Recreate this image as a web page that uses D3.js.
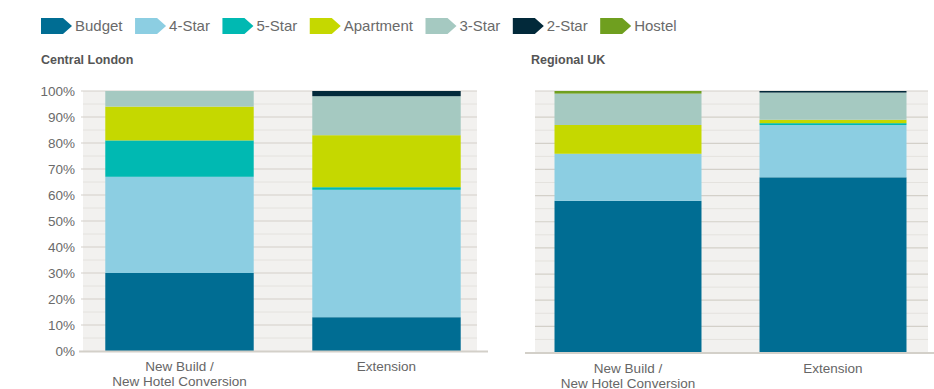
<!DOCTYPE html>
<html>
<head>
<meta charset="utf-8">
<script src="https://cdn.jsdelivr.net/npm/d3@7/dist/d3.min.js"></script>
<style>
  html, body { margin: 0; padding: 0; background: #ffffff; }
  svg { display: block; font-family: "Liberation Sans", Arial, sans-serif; }
</style>
</head>
<body>
<svg id="chart" width="934" height="389"></svg>
<script>
// Hotel pipeline mix by grade (% of rooms)
const series = ["Budget", "4-Star", "5-Star", "Apartment", "3-Star", "2-Star", "Hostel"];
const colors = ["#006d93", "#8ccee2", "#00b9b2", "#c5d800", "#a5c9c1", "#02293a", "#6f9f1f"];
const categories = ["New Build /\nNew Hotel Conversion", "Extension"];
const yTicks = [0, 10, 20, 30, 40, 50, 60, 70, 80, 90, 100];

// Central London: one array per series, values for [New Build, Extension]
const londonBudget    = [30, 13];
const londonFourStar  = [37, 49];
const londonFiveStar  = [14, 1];
const londonApartment = [13, 20];
const londonThreeStar = [6, 15];
const londonTwoStar   = [0, 2];
const londonHostel    = [0, 0];

// Regional UK
const regionalBudget    = [58, 67];
const regionalFourStar  = [18, 20];
const regionalFiveStar  = [0, 0.7];
const regionalApartment = [11, 1.3];
const regionalThreeStar = [12, 10.4];
const regionalTwoStar   = [0, 0.6];
const regionalHostel    = [1, 0];

function toRows(cols) {
  return categories.map((c, i) => {
    const row = { category: c };
    series.forEach((s, k) => { row[s] = cols[k][i]; });
    return row;
  });
}
const londonRows = toRows([londonBudget, londonFourStar, londonFiveStar, londonApartment,
                           londonThreeStar, londonTwoStar, londonHostel]);
const regionalRows = toRows([regionalBudget, regionalFourStar, regionalFiveStar, regionalApartment,
                             regionalThreeStar, regionalTwoStar, regionalHostel]);

const svg = d3.select("#chart");
const color = d3.scaleOrdinal().domain(series).range(colors);

// Legend: arrow-shaped swatches followed by labels
const legend = svg.append("g").attr("transform", "translate(41,18)");
let lx = 0;
series.forEach(s => {
  const g = legend.append("g").attr("transform", `translate(${lx},0)`);
  g.append("path")
    .attr("d", "M0,0 H22 L31,8 L22,16 H0 Z")
    .attr("fill", color(s));
  const t = g.append("text")
    .attr("x", 34).attr("y", 13)
    .attr("font-size", 15)
    .attr("fill", "#6a6a6a")
    .text(s);
  lx += 34 + t.node().getComputedTextLength() + 12.5;
});

function panel(opts) {
  const { title, titleX, rows, bgX0, bgX1, baseX0, baseX1, xRange, yRange, showAxis } = opts;
  const g = svg.append("g");

  g.append("text")
    .attr("x", titleX).attr("y", 64)
    .attr("font-size", 12.5).attr("font-weight", "bold")
    .attr("fill", "#555")
    .text(title);

  const y = d3.scaleLinear().domain([0, 100]).range(yRange);
  const x = d3.scaleBand().domain(categories).range(xRange)
    .paddingInner(0.283).paddingOuter(0.1415);

  // plot background
  g.append("rect")
    .attr("x", bgX0).attr("y", y(100))
    .attr("width", bgX1 - bgX0).attr("height", y(0) - y(100))
    .attr("fill", "#f2f1ef");

  // minor gridlines at 5%
  const minor = d3.range(5, 100, 10);
  g.append("g").selectAll("line").data(minor).join("line")
    .attr("x1", bgX0).attr("x2", bgX1)
    .attr("y1", d => y(d)).attr("y2", d => y(d))
    .attr("stroke", "#e4e2de").attr("stroke-width", 1);

  // major gridlines
  g.append("g").selectAll("line").data(yTicks.filter(d => d > 0)).join("line")
    .attr("x1", showAxis ? bgX0 - 2 : bgX0).attr("x2", bgX1)
    .attr("y1", d => y(d)).attr("y2", d => y(d))
    .attr("stroke", "#d3d0c9").attr("stroke-width", 1.2);

  // stacked bars
  const stacked = d3.stack().keys(series)(rows);
  g.append("g").selectAll("g").data(stacked).join("g")
    .attr("fill", d => color(d.key))
    .selectAll("rect").data(d => d).join("rect")
    .attr("x", d => x(d.data.category))
    .attr("width", x.bandwidth())
    .attr("y", d => y(d[1]))
    .attr("height", d => Math.max(0, y(d[0]) - y(d[1])));

  // baseline
  g.append("line")
    .attr("x1", baseX0).attr("x2", baseX1)
    .attr("y1", y(0) + 0.5).attr("y2", y(0) + 0.5)
    .attr("stroke", "#d3d0c9").attr("stroke-width", 2);

  if (showAxis) {
    const axis = d3.axisLeft(y).tickValues(yTicks).tickFormat(d => d + "%").tickSize(0).tickPadding(8);
    const ag = g.append("g").attr("transform", `translate(${bgX0},0)`).call(axis);
    ag.select(".domain").remove();
    ag.selectAll("text")
      .attr("font-size", 13.5)
      .attr("font-family", "'Liberation Sans', Arial, sans-serif")
      .attr("fill", "#6a6a6a");
  }

  // category labels
  const lab = g.append("g").selectAll("text").data(categories).join("text")
    .attr("x", d => x(d) + x.bandwidth() / 2)
    .attr("y", y(0) + 20)
    .attr("text-anchor", "middle")
    .attr("font-size", 13.5)
    .attr("fill", "#666");
  lab.each(function(d) {
    const lines = d.split("\n");
    d3.select(this).selectAll("tspan").data(lines).join("tspan")
      .attr("x", x(d) + x.bandwidth() / 2)
      .attr("dy", (l, i) => i === 0 ? 0 : 15)
      .text(l => l);
  });
}

panel({
  title: "Central London", titleX: 41, rows: londonRows,
  bgX0: 83, bgX1: 477, baseX0: 79, baseX1: 488,
  xRange: [76, 490], yRange: [351, 91], showAxis: true
});

panel({
  title: "Regional UK", titleX: 531, rows: regionalRows,
  bgX0: 535, bgX1: 928, baseX0: 525, baseX1: 934,
  xRange: [525.5, 935.5], yRange: [352.5, 91], showAxis: false
});
</script>
</body>
</html>
